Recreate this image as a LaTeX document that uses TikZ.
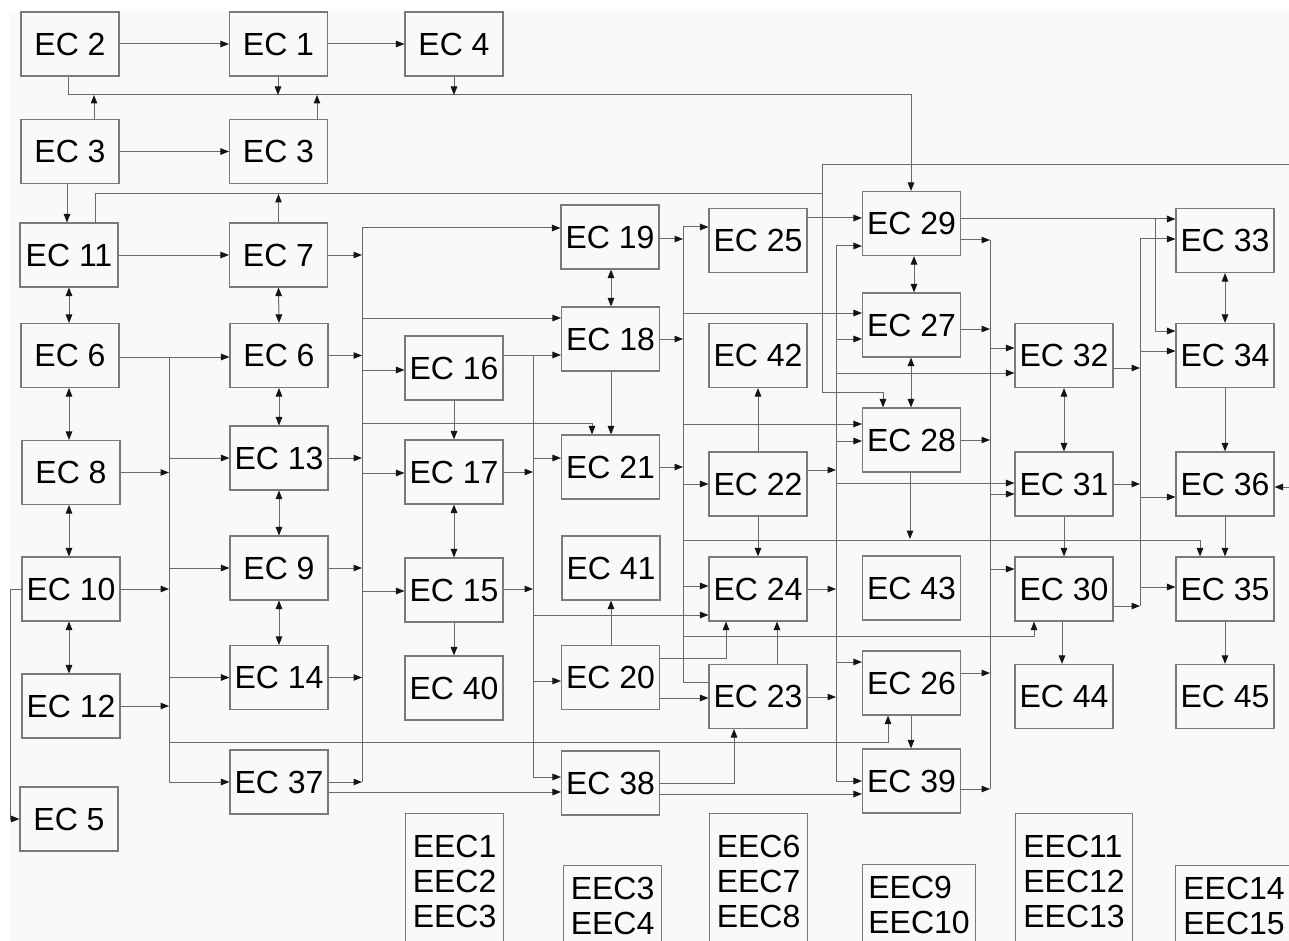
\documentclass[tikz,border=0pt]{standalone}
\usepackage{fontspec}
\setmainfont{Liberation Sans}
\usetikzlibrary{arrows.meta}
\definecolor{bgc}{RGB}{249,249,249}
\definecolor{lc}{RGB}{105,105,105}
\definecolor{bc}{RGB}{122,122,122}
\definecolor{tc}{RGB}{20,20,20}
\newcommand{\myfsz}{\fontsize{32pt}{35pt}\selectfont}
\begin{document}
\begin{tikzpicture}[x=1pt,y=-1pt,
  ln/.style={draw=lc, line width=1pt},
  arr/.style={ln, -{Triangle[length=8.5pt,width=6.5pt,color=tc]}},
  dbl/.style={ln, {Triangle[length=8.5pt,width=6.5pt,color=tc]}-{Triangle[length=8.5pt,width=6.5pt,color=tc]}},
  box/.style={draw=bc, line width=1.1pt, minimum width=98pt, minimum height=64pt, inner sep=2pt, font=\myfsz, text=black},
  ebox/.style={draw=bc, line width=1.1pt, inner sep=2pt, font=\myfsz, align=left, anchor=north west, text=black}]
\useasboundingbox (0,0) rectangle (1289,941);
\fill[white] (0,0) rectangle (1289,941);
\fill[bgc] (9,11) rectangle (1289,941);

% column 1
\node[box] (n2) at (70,44) {EC 2};
\node[box] (n3a) at (70,151.5) {EC 3};
\node[box] (n11) at (69,255) {EC 11};
\node[box] (n6a) at (70,355.5) {EC 6};
\node[box] (n8) at (71,472.5) {EC 8};
\node[box] (n10) at (71,589) {EC 10};
\node[box] (n12) at (71,706) {EC 12};
\node[box] (n5) at (69,819) {EC 5};
% column 2
\node[box] (n1) at (278.5,44) {EC 1};
\node[box] (n3b) at (278.5,151.5) {EC 3};
\node[box] (n7) at (278.5,255) {EC 7};
\node[box] (n6b) at (279,355.5) {EC 6};
\node[box] (n13) at (279,458) {EC 13};
\node[box] (n9) at (279,568) {EC 9};
\node[box] (n14) at (279,677.5) {EC 14};
\node[box] (n37) at (279,782) {EC 37};
% column 3
\node[box] (n4) at (454,44) {EC 4};
\node[box] (n16) at (454,368) {EC 16};
\node[box] (n17) at (454,472) {EC 17};
\node[box] (n15) at (454,590) {EC 15};
\node[box] (n40) at (454,688) {EC 40};
% column 4
\node[box] (n19) at (610,237) {EC 19};
\node[box] (n18) at (610.5,339) {EC 18};
\node[box] (n21) at (610.5,467) {EC 21};
\node[box] (n41) at (611,568) {EC 41};
\node[box] (n20) at (610.5,677.5) {EC 20};
\node[box] (n38) at (610.5,783) {EC 38};
% column 5
\node[box] (n25) at (758,240.5) {EC 25};
\node[box] (n42) at (758,355.5) {EC 42};
\node[box] (n22) at (758,484) {EC 22};
\node[box] (n24) at (758,589) {EC 24};
\node[box] (n23) at (758,696.5) {EC 23};
% column 6
\node[box] (n29) at (911.5,223.5) {EC 29};
\node[box] (n27) at (911.5,325) {EC 27};
\node[box] (n28) at (911.5,440) {EC 28};
\node[box] (n43) at (911.5,588) {EC 43};
\node[box] (n26) at (911.5,683) {EC 26};
\node[box] (n39) at (911.5,781) {EC 39};
% column 7
\node[box] (n32) at (1064,355.5) {EC 32};
\node[box] (n31) at (1064,484) {EC 31};
\node[box] (n30) at (1064,589) {EC 30};
\node[box] (n44) at (1064,696.5) {EC 44};
% column 8
\node[box] (n33) at (1225,240.5) {EC 33};
\node[box] (n34) at (1225,355.5) {EC 34};
\node[box] (n36) at (1225,484) {EC 36};
\node[box] (n35) at (1225,589) {EC 35};
\node[box] (n45) at (1225,696.5) {EC 45};
% EEC boxes
\node[ebox, minimum width=98pt, minimum height=136pt] (e1) at (405,813) {EEC1\\EEC2\\EEC3};
\node[ebox, minimum width=98pt, minimum height=81pt] (e3) at (563,865) {EEC3\\EEC4};
\node[ebox, minimum width=98pt, minimum height=136pt] (e6) at (709,813) {EEC6\\EEC7\\EEC8};
\node[ebox, minimum width=113pt, minimum height=81pt] (e9) at (862,864) {EEC9\\EEC10};
\node[ebox, minimum width=117pt, minimum height=136pt] (e11) at (1015,813) {EEC11\\EEC12\\EEC13};
\node[ebox, minimum width=117pt, minimum height=81pt] (e14) at (1175,865) {EEC14\\EEC15};

% ---- top area
\draw[arr] (n2.east) -- (n1.west);
\draw[arr] (n1.east) -- (n4.west);
\draw[arr] (n2.south -| 68,0) |- (911,95) -- (n29.north -| 911,0);
\draw[arr] (n1.south -| 278,0) -- (278,95);
\draw[arr] (n4.south) -- (454,95);
\draw[arr] (n3a.north -| 94,0) -- (94,95);
\draw[arr] (n3b.north -| 317,0) -- (317,95);
\draw[arr] (n3a.east) -- (n3b.west);
\draw[arr] (n3a.south -| 67,0) -- (n11.north -| 67,0);
\draw[ln] (n11.north -| 95,0) |- (822,194) |- (1289,165);
\draw[arr] (822,194) |- (883,392) -- (n28.north -| 883,0);
\draw[arr] (n7.north) -- (278.5,194);
\draw[arr] (n11.east) -- (n7.west);

% ---- column 1 vertical links
\draw[dbl] (n11.south -| 69,0) -- (n6a.north -| 69,0);
\draw[dbl] (n6a.south -| 69,0) -- (n8.north -| 69,0);
\draw[dbl] (n8.south -| 69,0) -- (n10.north -| 69,0);
\draw[dbl] (n10.south -| 69,0) -- (n12.north -| 69,0);
\draw[arr] (n10.west) -- (10,589) |- (n5.west);

% ---- bus at x=169
\draw[arr] (n6a.east |- 0,357) -- (n6b.west |- 0,357);
\draw[arr] (169,357) |- (n37.west);
\draw[arr] (169,458) -- (n13.west);
\draw[arr] (169,568) -- (n9.west);
\draw[arr] (169,677.5) -- (n14.west);
\draw[arr] (169,742) -| (n26.south -| 888,0);
\draw[arr] (n8.east) -- (169,472.5);
\draw[arr] (n10.east) -- (169,589);
\draw[arr] (n12.east) -- (169,706);

% ---- column 2 vertical links
\draw[dbl] (n7.south) -- (n6b.north);
\draw[dbl] (n6b.south) -- (n13.north);
\draw[dbl] (n13.south) -- (n9.north);
\draw[dbl] (n9.south) -- (n14.north);

% ---- bus at x=362
\draw[arr] (362,782) |- (n19.west |- 0,228);
\draw[arr] (n7.east) -- (362,255);
\draw[arr] (n6b.east) -- (362,355.5);
\draw[arr] (n13.east) -- (362,458);
\draw[arr] (n9.east) -- (362,568);
\draw[arr] (n14.east) -- (362,677.5);
\draw[arr] (n37.east) -- (362,782);
\draw[arr] (362,318) -- (n18.west |- 0,318);
\draw[arr] (362,370) -- (n16.west |- 0,370);
\draw[arr] (362,423) -| (n21.north -| 592,0);
\draw[arr] (362,473) -- (n17.west |- 0,473);
\draw[arr] (362,591) -- (n15.west |- 0,591);
\draw[arr] (n37.east |- 0,792) -- (n38.west |- 0,792);

% ---- column 3
\draw[arr] (n16.south) -- (n17.north);
\draw[dbl] (n17.south) -- (n15.north);
\draw[arr] (n15.south) -- (n40.north);

% ---- bus at x=533
\draw[arr] (n16.east |- 0,355) -- (n18.west |- 0,355);
\draw[arr] (533,355) |- (n38.west |- 0,777);
\draw[arr] (533,458) -- (n21.west |- 0,458);
\draw[arr] (533,615) -- (n24.west |- 0,615);
\draw[arr] (533,681) -- (n20.west |- 0,681);
\draw[arr] (n17.east |- 0,472) -- (533,472);
\draw[arr] (n15.east |- 0,589) -- (533,589);

% ---- column 4
\draw[dbl] (n19.south -| 611,0) -- (n18.north -| 611,0);
\draw[arr] (n18.south -| 611,0) -- (n21.north -| 611,0);
\draw[arr] (n20.north -| 611,0) -- (n41.south -| 611,0);
\draw[arr] (n20.east |- 0,658) -| (n24.south -| 726,0);
\draw[arr] (n20.east |- 0,698) -- (n23.west |- 0,698);
\draw[arr] (n38.east |- 0,783) -| (n23.south -| 734,0);
\draw[arr] (n38.east |- 0,794) -- (n39.west |- 0,794);

% ---- bus at x=683
\draw[arr] (n23.west |- 0,682) -| (683,227) -- (n25.west |- 0,227);
\draw[arr] (n19.east |- 0,239) -- (683,239);
\draw[arr] (n18.east |- 0,339) -- (683,339);
\draw[arr] (n21.east |- 0,467) -- (683,467);
\draw[arr] (683,313) -- (n27.west |- 0,313);
\draw[arr] (683,424) -- (n28.west |- 0,424);
\draw[arr] (683,484) -- (n22.west);
\draw[arr] (683,540) -| (n35.north -| 1200,0);
\draw[arr] (683,586) -- (n24.west |- 0,586);
\draw[arr] (683,636) -| (n30.south -| 1034,0);

% ---- column 5 links
\draw[arr] (n22.north) -- (n42.south);
\draw[arr] (n22.south) -- (n24.north);
\draw[arr] (n23.north -| 777,0) -- (n24.south -| 777,0);

% ---- bus at x=836
\draw[arr] (836,246) -- (n29.west |- 0,246);
\draw[arr] (836,246) |- (n39.west |- 0,781);
\draw[arr] (n25.east |- 0,218) -- (n29.west |- 0,218);
\draw[arr] (n22.east |- 0,470) -- (836,470);
\draw[arr] (n24.east) -- (836,589);
\draw[arr] (n23.east |- 0,697) -- (836,697);
\draw[arr] (836,339) -- (n27.west |- 0,339);
\draw[arr] (836,373) -- (n32.west |- 0,373);
\draw[arr] (836,441) -- (n28.west |- 0,441);
\draw[arr] (836,483) -- (n31.west |- 0,483);
\draw[arr] (836,662) -- (n26.west |- 0,662);

% ---- column 6 links
\draw[dbl] (n29.south -| 914,0) -- (n27.north -| 914,0);
\draw[dbl] (n27.south -| 911,0) -- (n28.north -| 911,0);
\draw[arr] (n28.south -| 910,0) -- (910,539);
\draw[arr] (n26.south -| 911,0) -- (n39.north -| 911,0);

% ---- bus at x=990
\draw[ln] (990,240) -- (990,789);
\draw[arr] (n29.east |- 0,240) -- (990,240);
\draw[arr] (n27.east |- 0,329) -- (990,329);
\draw[arr] (n28.east) -- (990,440);
\draw[arr] (n26.east |- 0,673) -- (990,673);
\draw[arr] (n39.east |- 0,789) -- (990,789);
\draw[arr] (990,348) -- (n32.west |- 0,348);
\draw[arr] (990,494) -- (n31.west |- 0,494);
\draw[arr] (990,569) -- (n30.west |- 0,569);

% ---- column 7 links
\draw[dbl] (n32.south) -- (n31.north);
\draw[arr] (n31.south) -- (n30.north);
\draw[arr] (n30.south -| 1062,0) -- (n44.north -| 1062,0);

% ---- bus at x=1140
\draw[arr] (1140,606) -- (1140,239) -- (n33.west |- 0,239);
\draw[arr] (n32.east |- 0,368) -- (1140,368);
\draw[arr] (n31.east) -- (1140,484);
\draw[arr] (n30.east |- 0,606) -- (1140,606);
\draw[arr] (1140,351) -- (n34.west |- 0,351);
\draw[arr] (1140,497) -- (n36.west |- 0,497);
\draw[arr] (1140,587) -- (n35.west |- 0,587);
\draw[arr] (n29.east |- 0,219) -- (n33.west |- 0,219);
\draw[arr] (1155,219) |- (n34.west |- 0,331);

% ---- column 8 links
\draw[dbl] (n33.south) -- (n34.north);
\draw[arr] (n34.south) -- (n36.north);
\draw[arr] (n36.south) -- (n35.north);
\draw[arr] (n35.south) -- (n45.north);
\draw[arr] (1289,487) -- (n36.east |- 0,487);
\end{tikzpicture}
\end{document}
